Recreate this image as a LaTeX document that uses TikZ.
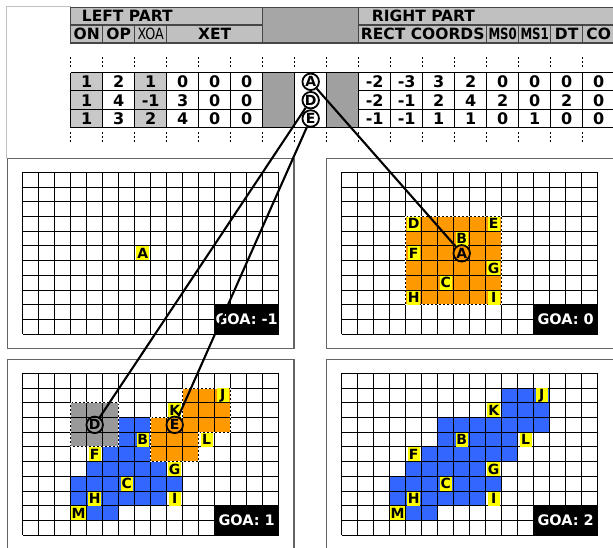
\documentclass[tikz,border=0pt]{standalone}
\usepackage{fontspec}
\usepackage{graphicx}
\setmainfont{DejaVu Sans}
\definecolor{hdrgray}{RGB}{192,192,192}
\definecolor{hdrmid}{RGB}{166,166,166}
\definecolor{cellgray}{RGB}{200,200,200}
\definecolor{midgray}{RGB}{160,160,160}
\definecolor{orangeA}{RGB}{255,153,0}
\definecolor{blueA}{RGB}{51,102,255}
\definecolor{blockgray}{RGB}{153,153,153}
\definecolor{labyellow}{RGB}{255,255,0}
\definecolor{framegray}{RGB}{100,100,100}
\definecolor{hdrline}{RGB}{70,70,70}
\newcommand\mygridlines{%
  \foreach \i in {0,...,16} \draw[gline] (\i,0) -- (\i,11);
  \foreach \j in {0,...,11} \draw[gline] (0,\j) -- (16,\j);}
\begin{document}
\begin{tikzpicture}[x=1pt,y=-1pt,
  hdrtxt/.style={font=\fontsize{15.5}{15.5}\selectfont\bfseries, inner sep=0pt},
  num/.style={font=\fontsize{16}{16}\selectfont\bfseries, inner sep=0pt},
  lab/.style={fill=labyellow, font=\fontsize{14}{14}\selectfont\bfseries, inner xsep=0.8pt, inner ysep=0pt, minimum width=12pt, minimum height=14pt},
  circ/.style={circle, draw=black, line width=1.8pt, minimum size=16.5pt, inner sep=0pt, font=\fontsize{14}{14}\selectfont\bfseries},
  goa/.style={fill=black, text=white, font=\fontsize{14.5}{14.5}\selectfont\bfseries, inner sep=0pt, minimum width=64pt, minimum height=29.4pt},
  gline/.style={draw=black, line width=1pt},
  dashw/.style={draw=white, line width=1pt, dash pattern=on 2pt off 2pt},
  tline/.style={draw=black, line width=1pt},
  hline/.style={draw=hdrline, line width=1.2pt},
  tick/.style={draw=black, line width=0.8pt, dash pattern=on 2.5pt off 1.5pt},
  panel/.style={draw=framegray, fill=white, line width=1.5pt},
  conn/.style={draw=black, line width=2.1pt}]
\useasboundingbox (0,0) rectangle (613,548);
\fill[white] (0,0) rectangle (613,548);
% faint frame
\draw[draw=hdrgray, line width=0.8pt] (70.7,6.3) -- (6,6.3) -- (6,158.3);
% ---------- header ----------
\fill[hdrgray] (70.7,7.3) rectangle (262.7,43);
\fill[hdrmid] (262.7,7.3) rectangle (358.7,43);
\fill[hdrgray] (358.7,7.3) rectangle (614.7,43);
\draw[hline] (70.7,7.3) rectangle (614.7,43);
\draw[hline] (70.7,25) -- (262.7,25);
\draw[hline] (358.7,25) -- (614.7,25);
\draw[hline] (262.7,7.3) -- (262.7,43);
\draw[hline] (358.7,7.3) -- (358.7,43);
\foreach \xx in {102.7,134.7,166.7,486.7,518.7,550.7,582.7}
  \draw[hline] (\xx,25) -- (\xx,43);
\node[hdrtxt, anchor=west] (hLeft) at (81.7,16.2) {LEFT PART};
\node[hdrtxt, anchor=west] (hRight) at (371.7,16.2) {RIGHT PART};
\node[hdrtxt] (hON) at (86.7,34) {ON};
\node[hdrtxt] (hOP) at (118.7,34) {OP};
\node[inner sep=0pt, font=\fontsize{15.5}{15.5}\selectfont] (hXOA) at (150.7,34) {\scalebox{0.82}[1]{XOA}};
\node[hdrtxt] (hXET) at (214.7,34) {XET};
\node[hdrtxt] (hRect) at (422.7,34) {RECT COORDS};
\node[hdrtxt] (hMS0) at (502.7,34) {\scalebox{0.76}[1]{MS0}};
\node[hdrtxt] (hMS1) at (534.7,34) {\scalebox{0.76}[1]{MS1}};
\node[hdrtxt] (hDT) at (566.7,34) {DT};
\node[hdrtxt] (hCO) at (598.7,34) {CO};
% ---------- ticks ----------
\foreach \k in {0,...,17} {
  \draw[tick] (70.7+32*\k,57) -- (70.7+32*\k,68);
  \draw[tick] (70.7+32*\k,132) -- (70.7+32*\k,143);
}
% ---------- table ----------
\fill[cellgray] (70.7,72.7) rectangle (102.7,127.7);
\fill[cellgray] (134.7,72.7) rectangle (166.7,127.7);
\fill[midgray] (262.7,72.7) rectangle (294.7,127.7);
\fill[midgray] (326.7,72.7) rectangle (358.7,127.7);
\draw[tline] (70.7,72.7) -- (614.7,72.7);
\draw[tline] (70.7,127.7) -- (614.7,127.7);
\foreach \yy in {91,109.3} {
  \draw[tline] (70.7,\yy) -- (262.7,\yy);
  \draw[tline] (358.7,\yy) -- (614.7,\yy);
}
\foreach \k in {0,...,17}
  \draw[tline] (70.7+32*\k,72.7) -- (70.7+32*\k,127.7);
\foreach \v [count=\k from 0] in {1,2,1,0,0,0}
  \node[num] (lA\k) at (86.7+32*\k,81.8) {\v};
\foreach \v [count=\k from 0] in {1,4,-1,3,0,0}
  \node[num] (lD\k) at (86.7+32*\k,100.2) {\v};
\foreach \v [count=\k from 0] in {1,3,2,4,0,0}
  \node[num] (lE\k) at (86.7+32*\k,118.5) {\v};
\foreach \v [count=\k from 9] in {-2,-3,3,2,0,0,0,0}
  \node[num] (rA\k) at (86.7+32*\k,81.8) {\v};
\foreach \v [count=\k from 9] in {-2,-1,2,4,2,0,2,0}
  \node[num] (rD\k) at (86.7+32*\k,100.2) {\v};
\foreach \v [count=\k from 9] in {-1,-1,1,1,0,1,0,0}
  \node[num] (rE\k) at (86.7+32*\k,118.5) {\v};
\node[circ] (tA) at (310.7,81.8) {A};
\node[circ] (tD) at (310.7,100.2) {D};
\node[circ] (tE) at (310.7,118.5) {E};
% ---------- panels ----------
\draw[panel] (7.3,158.3) rectangle (294,348.3);
\draw[panel] (326.7,158.3) rectangle (614.5,348.3);
\draw[panel] (7.3,359.3) rectangle (294,549.5);
\draw[panel] (326.7,359.3) rectangle (614.5,549.5);
% ---------- grid TL (GOA -1) ----------
\begin{scope}[shift={(22.7,172.3)}, x=16pt, y=-14.73pt]
  \mygridlines
  \node[lab] (tlA) at (7.5,5.5) {A};
  \node[goa] (tlGoa) at (14,10) {GOA: -1};
\end{scope}
% ---------- grid TR (GOA 0) ----------
\begin{scope}[shift={(341.7,172.3)}, x=16pt, y=-14.73pt]
  \fill[orangeA] (4,3) rectangle (10,9);
  \mygridlines
  \draw[dashw] (4,3) rectangle (10,9);
  \node[lab] (trD) at (4.5,3.5) {D};
  \node[lab] (trE) at (9.5,3.5) {E};
  \node[lab] (trB) at (7.5,4.5) {B};
  \node[lab] (trF) at (4.5,5.5) {F};
  \node[lab] (trG) at (9.5,6.5) {G};
  \node[lab] (trC) at (6.5,7.5) {C};
  \node[lab] (trH) at (4.5,8.5) {H};
  \node[lab] (trI) at (9.5,8.5) {I};
  \node[circ] (trA) at (7.5,5.5) {A};
  \node[goa] (trGoa) at (14,10) {GOA: 0};
\end{scope}
% ---------- grid BL (GOA 1) ----------
\begin{scope}[shift={(22.7,373.3)}, x=16pt, y=-14.73pt]
  \foreach \r/\a/\b in {1/10/12, 2/10/12, 3/6/12, 4/6/10, 5/5/10, 6/4/8, 7/3/9, 8/3/8, 9/4/5}
    \fill[blueA] (\a,\r) rectangle (\b+1,\r+1);
  \fill[orangeA] (10,1) -- (13,1) -- (13,4) -- (11,4) -- (11,6) -- (8,6) -- (8,3) -- (10,3) -- cycle;
  \fill[blockgray] (3,2) rectangle (6,5);
  \mygridlines
  \draw[dashw] (10,1) -- (13,1) -- (13,4) -- (11,4) -- (11,6) -- (8,6) -- (8,3) -- (10,3) -- cycle;
  \draw[dashw] (3,2) rectangle (6,5);
  \node[lab] (blJ) at (12.5,1.5) {J};
  \node[lab] (blK) at (9.5,2.5) {K};
  \node[lab] (blB) at (7.5,4.5) {B};
  \node[lab] (blL) at (11.5,4.5) {L};
  \node[lab] (blF) at (4.5,5.5) {F};
  \node[lab] (blG) at (9.5,6.5) {G};
  \node[lab] (blC) at (6.5,7.5) {C};
  \node[lab] (blH) at (4.5,8.5) {H};
  \node[lab] (blI) at (9.5,8.5) {I};
  \node[lab] (blM) at (3.5,9.5) {M};
  \node[circ] (blD) at (4.5,3.5) {D};
  \node[circ] (blE) at (9.5,3.5) {E};
  \node[goa] (blGoa) at (14,10) {GOA: 1};
\end{scope}
% ---------- grid BR (GOA 2) ----------
\begin{scope}[shift={(341.7,373.3)}, x=16pt, y=-14.73pt]
  \foreach \r/\a/\b in {1/10/12, 2/10/12, 3/6/12, 4/6/10, 5/5/10, 6/4/8, 7/3/9, 8/3/8, 9/4/5}
    \fill[blueA] (\a,\r) rectangle (\b+1,\r+1);
  \mygridlines
  \node[lab] (brJ) at (12.5,1.5) {J};
  \node[lab] (brK) at (9.5,2.5) {K};
  \node[lab] (brB) at (7.5,4.5) {B};
  \node[lab] (brL) at (11.5,4.5) {L};
  \node[lab] (brF) at (4.5,5.5) {F};
  \node[lab] (brG) at (9.5,6.5) {G};
  \node[lab] (brC) at (6.5,7.5) {C};
  \node[lab] (brH) at (4.5,8.5) {H};
  \node[lab] (brI) at (9.5,8.5) {I};
  \node[lab] (brM) at (3.5,9.5) {M};
  \node[goa] (brGoa) at (14,10) {GOA: 2};
\end{scope}
% ---------- connectors ----------
\draw[conn] (tA) -- (trA);
\draw[conn] (tD) -- (blD);
\draw[conn] (tE) -- (blE);
\end{tikzpicture}
\end{document}
